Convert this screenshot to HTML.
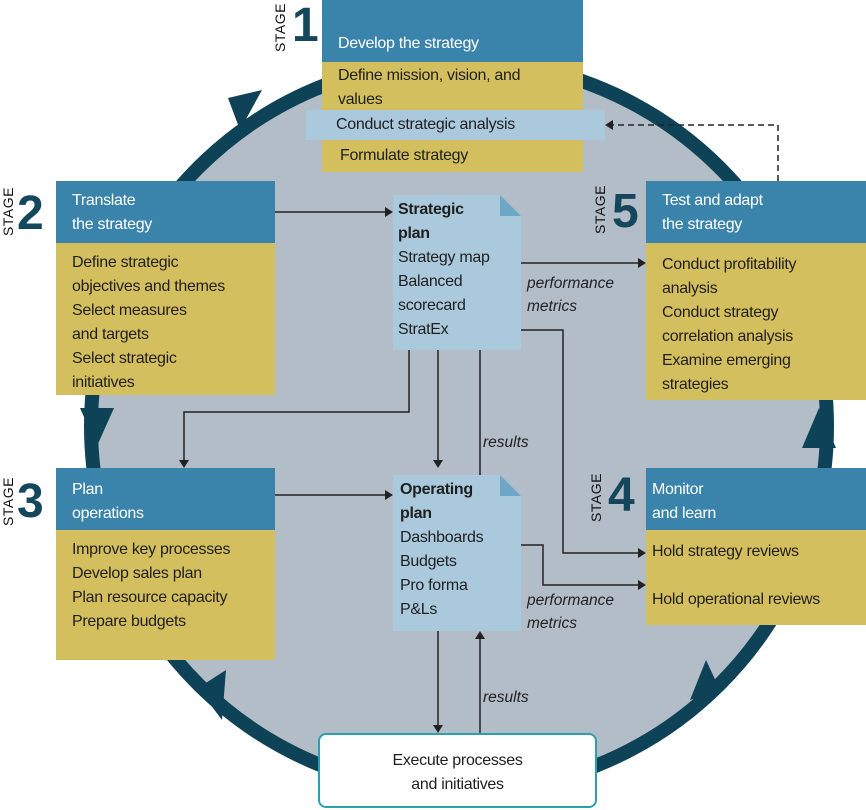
<!DOCTYPE html>
<html><head><style>
body{margin:0;width:866px;height:810px;overflow:hidden;background:#fff;font-family:"Liberation Sans",sans-serif;position:relative}
.b{position:absolute;box-sizing:border-box;color:#1f1f1f;font-size:16px;line-height:24px;letter-spacing:-0.3px}
.h{background:#3a83aa;color:#fff;padding:12px 16px 0}
.y{background:#d4bf5f;padding:4px 16px}
.lb{background:#abc9dc}
.stg{position:absolute;font-size:14px;color:#111;transform:rotate(-90deg);transform-origin:left top;letter-spacing:0.5px}
.num{position:absolute;font-size:48px;font-weight:bold;color:#14465c;line-height:48px}
.it{position:absolute;font-style:italic;font-size:15.5px;color:#222;line-height:23px}
</style></head><body>
<svg width="866" height="810" style="position:absolute;left:0;top:0">
<ellipse cx="459" cy="426" rx="368" ry="366" fill="#b3bdc7" stroke="#0e4257" stroke-width="14"/>
<g fill="#0e4257">
<polygon points="228,98 262,90 240,130"/>
<polygon points="80,408 114,408 97,446"/>
<polygon points="198,688 226,670 222,720"/>
<polygon points="690,700 720,690 706,660"/>
<polygon points="802,448 836,448 819,408"/>
</g>
<g stroke="#222" stroke-width="1.5" fill="none">
<path d="M275 212H388"/><path d="M521 263H640"/>
<path d="M409 350V412H184V462"/><path d="M438 350V462"/><path d="M480 475V340"/>
<path d="M521 330H563V553H640"/><path d="M521 545H543V585H640"/>
<path d="M275 495H388"/><path d="M438 631V727"/><path d="M480 733V637"/>
<path d="M778 181V125H612" stroke-dasharray="6,4"/>
</g>
<g fill="#222">
<polygon points="393,212 385,207 385,217"/><polygon points="646,263 638,258 638,268"/>
<polygon points="184,468 179,460 189,460"/><polygon points="438,468 433,460 443,460"/>
<polygon points="480,335 475,343 485,343"/><polygon points="646,553 638,548 638,558"/>
<polygon points="646,585 638,580 638,590"/><polygon points="393,495 385,490 385,500"/>
<polygon points="438,733 433,725 443,725"/><polygon points="480,631 475,639 485,639"/>
<polygon points="605,125 613,120 613,130"/>
</g>
<path d="M393 195H500L521 216V350H393Z" fill="#abc9dc"/><path d="M500 195V216H521Z" fill="#6ea6c8"/>
<path d="M393 475H500L521 496V631H393Z" fill="#abc9dc"/><path d="M500 475V496H521Z" fill="#6ea6c8"/>
</svg>
<div class="b h" style="left:322px;top:0;width:261px;height:62px;padding-top:32px">Develop the strategy</div>
<div class="b y" style="left:322px;top:62px;width:261px;height:48px;padding:2px 16px">Define mission, vision, and<br>values</div>
<div class="b lb" style="left:306px;top:110px;width:299px;height:30px;padding:3px 30px">Conduct strategic analysis</div>
<div class="b y" style="left:322px;top:140px;width:261px;height:32px;padding:4px 18px">Formulate strategy</div>
<div class="stg" style="left:272px;top:52px">STAGE</div><div class="num" style="left:292px;top:2px">1</div>

<div class="b h" style="left:56px;top:181px;width:219px;height:62px;padding-top:8px">Translate<br>the strategy</div>
<div class="b y" style="left:56px;top:243px;width:219px;height:152px;padding-top:8px">Define strategic<br>objectives and themes<br>Select measures<br>and targets<br>Select strategic<br>initiatives</div>
<div class="stg" style="left:0;top:236px">STAGE</div><div class="num" style="left:17px;top:190px">2</div>

<div class="b h" style="left:56px;top:468px;width:219px;height:62px;padding-top:10px">Plan<br>operations</div>
<div class="b y" style="left:56px;top:530px;width:219px;height:130px;padding-top:8px">Improve key processes<br>Develop sales plan<br>Plan resource capacity<br>Prepare budgets</div>
<div class="stg" style="left:0;top:526px">STAGE</div><div class="num" style="left:17px;top:478px">3</div>

<div class="b h" style="left:646px;top:181px;width:220px;height:62px;padding-top:8px">Test and adapt<br>the strategy</div>
<div class="b y" style="left:646px;top:243px;width:220px;height:157px;padding-top:10px">Conduct profitability<br>analysis<br>Conduct strategy<br>correlation analysis<br>Examine emerging<br>strategies</div>
<div class="stg" style="left:592px;top:234px">STAGE</div><div class="num" style="left:612px;top:188px">5</div>

<div class="b h" style="left:646px;top:468px;width:220px;height:62px;padding:10px 6px 0">Monitor<br>and learn</div>
<div class="b y" style="left:646px;top:530px;width:220px;height:95px;padding:10px 6px"><div>Hold strategy reviews</div><div style="margin-top:24px">Hold operational reviews</div></div>
<div class="stg" style="left:588px;top:522px">STAGE</div><div class="num" style="left:608px;top:472px">4</div>

<div class="b" style="left:398px;top:198px;width:120px"><b>Strategic<br>plan</b><br>Strategy map<br>Balanced<br>scorecard<br>StratEx</div>
<div class="b" style="left:400px;top:478px;width:120px"><b>Operating<br>plan</b><br>Dashboards<br>Budgets<br>Pro forma<br>P&amp;Ls</div>
<div class="it" style="left:527px;top:272px">performance<br>metrics</div>
<div class="it" style="left:527px;top:589px">performance<br>metrics</div>
<div class="it" style="left:483px;top:431px">results</div>
<div class="it" style="left:483px;top:686px">results</div>
<div class="b" style="left:318px;top:733px;width:279px;height:75px;background:#fff;border:2px solid #2aa0b0;border-radius:8px;text-align:center;padding-top:14px">Execute processes<br>and initiatives</div>
</body></html>
